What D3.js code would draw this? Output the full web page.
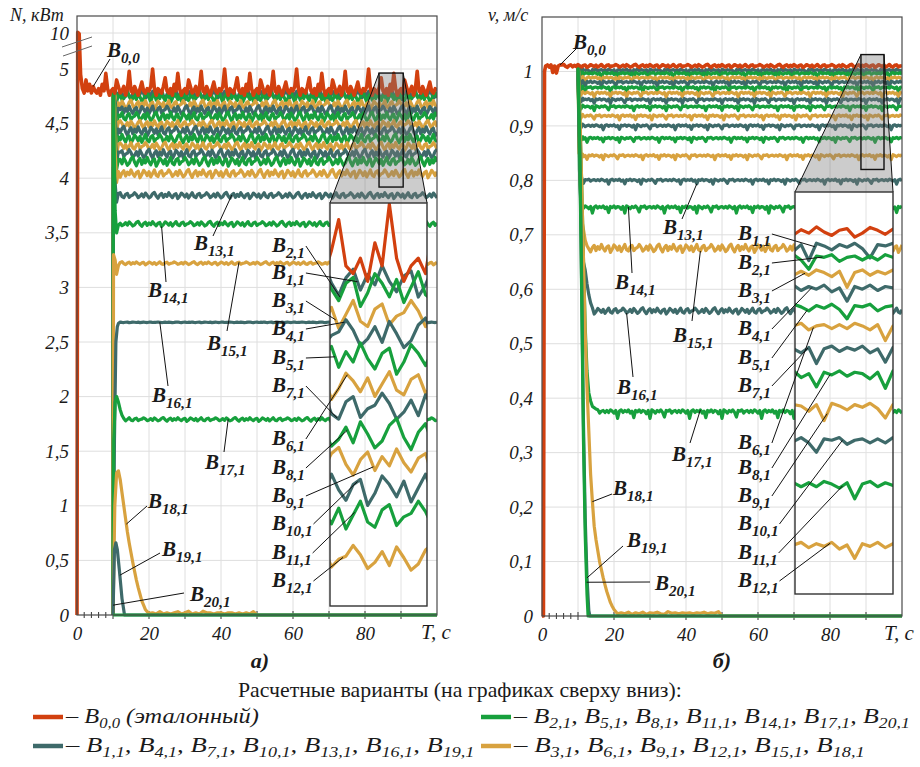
<!DOCTYPE html>
<html>
<head>
<meta charset="utf-8">
<script src="https://cdn.jsdelivr.net/npm/d3@7"></script>
<style>
  body { margin: 0; background: #fff; }
</style>
</head>
<body>
<svg id="fig" width="920" height="767"></svg>
<script>
// ---------- data ----------
const timeStep = 0.5;
const tEnd = 100;
const seriesNames = ['0,0', '1,1', '2,1', '3,1', '4,1', '5,1', '6,1', '7,1', '8,1', '9,1', '10,1',
  '11,1', '12,1', '13,1', '14,1', '15,1', '16,1', '17,1', '18,1', '19,1', '20,1'];

// typed ripple patterns (deviation units), sampled every 0.5 s
const rippleA = [0.2, 0.9, 0.3, -0.6, -0.2, 0.5, -0.4, 0.8, 0.1, -0.7, -0.3, 0.6, 1.0, -0.1, -0.8, 0.2, 0.7, -0.5, 0.4, -0.2,
  0.9, 0.0, -0.6, 0.3, 0.6, -0.9, -0.2, 0.8, 0.3, -0.4, 0.5, -0.7, 0.1, 0.9, -0.3, -0.6, 0.4, 0.7, -0.5, 0.0];
const rippleB = [0.2, -0.1, 0.3, 0.1, -0.2, 0.2, -1.0, 0.1, 0.3, -0.1, 0.2, 0.0, 0.3, -0.2, 0.1, -0.9, 0.2, 0.0, 0.3, -0.1,
  0.2, 0.1, -0.3, 0.2, -1.0, 0.3, 0.1, -0.2, 0.2, 0.0, 0.3, -0.1, -0.8, 0.2, 0.1, 0.3, -0.2, 0.1, 0.2, -0.1];
const rippleRed = [0.0, 0.2, 1.0, 0.1, -0.2, 0.1, 0.0, -0.1, 0.2, 0.6, 0.0, -0.1, 0.1, -0.2, 0.3, 0.0, 0.8, 0.1, -0.2, 0.0,
  0.1, -0.1, 0.5, 0.2, -0.1, 0.0, 0.2, -0.2, 0.1, 0.9, 0.0, -0.1, 0.2, 0.0, -0.2, 0.1, 0.4, 0.0, -0.1, 0.1];
const ripplePhase = [0, 5, 13, 22, 31, 8, 17, 26, 35, 3, 12, 21, 30, 9, 18, 27, 36, 4, 0, 0, 0];

// (a) power N, kW
const levelN = [4.80, 4.76, 4.74, 4.67, 4.62, 4.56, 4.49, 4.43, 4.36, 4.29, 4.22, 4.15, 4.04, 3.84, 3.58, 3.22, 2.68, 1.79, 0, 0, 0];
const ampN = [0.2, 0.045, 0.05, 0.045, 0.045, 0.045, 0.04, 0.045, 0.045, 0.04, 0.045, 0.045, 0.04, 0.03, 0.025, 0.015, 0.003, 0.018, 0, 0, 0];
const rippleKeyN = ['red', 'a', 'a', 'a', 'a', 'a', 'a', 'a', 'a', 'a', 'a', 'a', 'a', 'a', 'a', 'a', 'a', 'a', 'a', 'a', 'a'];
const transientN = [
  [[0, 0], [0.2, 10.1], [0.6, 9.9], [1, 4.95], [1.5, 4.82], [2, 4.78], [2.5, 4.9], [3, 4.8], [3.5, 4.86], [4, 4.78], [4.5, 4.84]],
  [[10, 0], [10.1, 4.8], [10.6, 4.82], [11, 4.72], [11.5, 4.78]],
  [[10, 0], [10.1, 4.8], [10.6, 4.8], [11, 4.7], [11.5, 4.76]],
  [[10, 0], [10.1, 4.8], [10.6, 4.75], [11, 4.62], [11.5, 4.69]],
  [[10, 0], [10.1, 4.8], [10.6, 4.7], [11, 4.57], [11.5, 4.64]],
  [[10, 0], [10.1, 4.8], [10.6, 4.66], [11, 4.5], [11.5, 4.58]],
  [[10, 0], [10.1, 4.8], [10.6, 4.6], [11, 4.44], [11.5, 4.51]],
  [[10, 0], [10.1, 4.8], [10.6, 4.55], [11, 4.37], [11.5, 4.45]],
  [[10, 0], [10.1, 4.8], [10.6, 4.5], [11, 4.3], [11.5, 4.38]],
  [[10, 0], [10.1, 4.8], [10.6, 4.45], [11, 4.22], [11.5, 4.31]],
  [[10, 0], [10.1, 4.8], [10.6, 4.4], [11, 4.15], [11.5, 4.24]],
  [[10, 0], [10.1, 4.8], [10.6, 4.35], [11, 4.08], [11.5, 4.17]],
  [[10, 0], [10.1, 4.8], [10.6, 4.25], [11, 3.96], [11.5, 4.06]],
  [[10, 0], [10.1, 4.1], [10.6, 3.95], [11, 3.78], [11.5, 3.86]],
  [[10, 0], [10.1, 4.8], [10.6, 3.7], [11, 3.5], [11.5, 3.57]],
  [[10, 0], [10.15, 3.3], [10.6, 3.25], [11, 3.12], [11.5, 3.2]],
  [[10, 0], [10.4, 1.6], [10.8, 2.5], [11.2, 2.64], [11.5, 2.67]],
  [[10, 0], [10.2, 1.6], [10.6, 1.95], [11, 2.0], [11.5, 1.95], [12, 1.88], [12.5, 1.83], [13, 1.8]],
  [[10, 0], [10.5, 1.0], [11, 1.3], [11.5, 1.32], [12, 1.24], [12.5, 1.12], [13, 1.0], [13.5, 0.88], [14, 0.76], [14.5, 0.66],
   [15, 0.57], [15.5, 0.48], [16, 0.4], [16.5, 0.32], [17, 0.25], [17.5, 0.19], [18, 0.13], [18.5, 0.09], [19, 0.05], [19.5, 0.03],
   [20, 0.015], [21, 0.02], [22, 0.01], [23, 0.03], [24, 0.01], [25, 0.02], [26, 0.01], [27, 0.02], [28, 0.03], [29, 0.01],
   [30, 0.02], [31, 0.035], [32, 0.01], [33, 0.02], [34, 0.01], [35, 0.035], [36, 0.02], [37, 0.02], [38, 0.01], [39, 0.02],
   [40, 0.02], [41, 0.01], [42, 0.02], [43, 0.02], [44, 0.01], [45, 0.02], [46, 0.01], [47, 0.02], [48, 0.01], [49, 0.03], [50, 0]],
  [[10, 0], [10.4, 0.6], [10.8, 0.66], [11.2, 0.6], [11.8, 0.4], [12.5, 0.15], [13.2, 0]],
  [[10, 0], [10.5, 0]]
];
const yTicksN = [0, 0.5, 1, 1.5, 2, 2.5, 3, 3.5, 4, 4.5, 5, 10];

// (b) speed v, m/s
const levelV = [1.01, 1.002, 0.996, 0.988, 0.98, 0.97, 0.96, 0.948, 0.935, 0.918, 0.9, 0.877, 0.845, 0.80, 0.75, 0.675, 0.56, 0.375, 0, 0, 0];
const ampV = [0.003, 0.007, 0.007, 0.007, 0.007, 0.007, 0.007, 0.007, 0.007, 0.007, 0.007, 0.007, 0.007, 0.007, 0.01, 0.008, 0.006, 0.012, 0, 0, 0];
const rippleKeyV = ['a', 'b', 'b', 'b', 'b', 'b', 'b', 'b', 'b', 'b', 'b', 'b', 'b', 'b', 'b', 'a', 'a', 'b', 'a', 'a', 'a'];
const transientV = [
  [[0, 0], [0.4, 0], [0.7, 1.0], [1, 1.01], [1.5, 1.012], [2, 1.008], [2.5, 1.012], [3, 0.998], [3.5, 1.01], [4, 0.997], [4.5, 1.01], [5, 1.012]],
  [[10, 1.01], [10.3, 1.007], [10.8, 0.998], [11.3, 1.005]],
  [[10, 1.01], [10.3, 1.001], [10.8, 0.992], [11.3, 0.999]],
  [[10, 1.01], [10.3, 0.993], [10.8, 0.984], [11.3, 0.991]],
  [[10, 1.01], [10.3, 0.985], [10.8, 0.976], [11.3, 0.983]],
  [[10, 1.01], [10.3, 0.975], [10.8, 0.966], [11.3, 0.973]],
  [[10, 1.01], [10.3, 0.965], [10.8, 0.956], [11.3, 0.963]],
  [[10, 1.01], [10.3, 0.953], [10.8, 0.944], [11.3, 0.951]],
  [[10, 1.01], [10.3, 0.94], [10.8, 0.931], [11.3, 0.938]],
  [[10, 1.01], [10.3, 0.923], [10.8, 0.914], [11.3, 0.921]],
  [[10, 1.01], [10.3, 0.905], [10.8, 0.896], [11.3, 0.903]],
  [[10, 1.01], [10.3, 0.882], [10.8, 0.873], [11.3, 0.88]],
  [[10, 1.01], [10.3, 0.85], [10.8, 0.841], [11.3, 0.848]],
  [[10, 1.01], [10.4, 0.86], [10.8, 0.81], [11.3, 0.798]],
  [[10, 1.01], [10.4, 0.82], [10.8, 0.76], [11.3, 0.75]],
  [[10, 1.01], [10.5, 0.82], [11, 0.73], [11.5, 0.71], [12, 0.69], [12.5, 0.68]],
  [[10, 1.01], [10.5, 0.82], [11, 0.7], [11.5, 0.65], [12, 0.635], [12.5, 0.61], [13, 0.59], [13.5, 0.575], [14, 0.566]],
  [[10, 1.01], [10.5, 0.92], [11, 0.8], [11.5, 0.66], [12, 0.53], [12.5, 0.45], [13, 0.41], [13.5, 0.395], [14, 0.385], [15, 0.38]],
  [[10, 1.01], [10.5, 0.93], [11, 0.8], [11.5, 0.66], [12, 0.52], [12.5, 0.42], [13, 0.34], [13.5, 0.26], [14, 0.21], [14.5, 0.165],
   [15, 0.14], [15.5, 0.12], [16, 0.1], [16.5, 0.085], [17, 0.07], [17.5, 0.057], [18, 0.045], [18.5, 0.035], [19, 0.025], [19.5, 0.018],
   [20, 0.012], [20.5, 0.008], [21, 0.004], [22, 0.006], [23, 0.004], [24, 0.007], [25, 0.003], [26, 0.006], [27, 0.004], [28, 0.007],
   [29, 0.003], [30, 0.006], [31, 0.005], [32, 0.007], [33, 0.004], [34, 0.003], [35, 0.008], [36, 0.005], [37, 0.006], [38, 0.004],
   [39, 0.006], [40, 0.005], [41, 0.006], [42, 0.004], [43, 0.006], [44, 0.005], [45, 0.007], [46, 0.004], [47, 0.006], [48, 0.005],
   [49, 0.008], [50, 0]],
  [[10, 1.01], [10.5, 0.86], [11, 0.62], [11.5, 0.36], [12, 0.18], [12.5, 0.07], [13, 0.01], [13.3, 0]],
  [[10, 1.01], [10.5, 0.85], [11, 0.6], [11.5, 0.33], [12, 0.15], [12.5, 0.04], [12.8, 0]]
];
const yTicksV = [0, 0.1, 0.2, 0.3, 0.4, 0.5, 0.6, 0.7, 0.8, 0.9, 1];
const xTickLabels = [0, 20, 40, 60, 80];

// ---------- styling / layout ----------
const SERIF = 'Liberation Serif';
const palette = { red: '#d2400f', teal: '#3e6a6a', green: '#17a03d', gold: '#d8a23f' };
const colorOf = i => i === 0 ? palette.red : [palette.teal, palette.green, palette.gold][(i - 1) % 3];
const patterns = { a: rippleA, b: rippleB, red: rippleRed };

function buildPoints(i, trans, levels, amps, keys) {
  const pts = trans[i].map(p => ({ t: p[0], v: p[1] }));
  const pat = patterns[keys[i]];
  const last = pts[pts.length - 1].t;
  for (let g = Math.floor(last / timeStep + 1e-9) + 1; g * timeStep <= tEnd + 1e-9; g++) {
    pts.push({ t: g * timeStep, v: levels[i] + amps[i] * pat[(g + ripplePhase[i]) % pat.length] });
  }
  return pts;
}

function valueAt(pts, t) {
  const i = d3.bisector(d => d.t).left(pts, t);
  if (i <= 0) return pts[0].v;
  if (i >= pts.length) return pts[pts.length - 1].v;
  const a = pts[i - 1], b = pts[i];
  return a.v + (b.v - a.v) * (t - a.t) / (b.t - a.t);
}

const svg = d3.select('#fig');
const fmt = d => String(d).replace('.', ',');
const addText = (parent) => parent.append('text').style('font-family', SERIF).style('fill', '#1a1a1a');

// label "B" with subscript
function bLabel(g, x, y, name, size, bold) {
  const t = addText(g).attr('x', x).attr('y', y)
    .style('font-style', 'italic').style('font-weight', bold ? 'bold' : 'normal').style('font-size', size + 'px');
  t.append('tspan').text('B');
  t.append('tspan').attr('dy', size * 0.27).style('font-size', (size * 0.72) + 'px').text(name);
  return t;
}

function drawPanel(cfg) {
  const x = cfg.x, y = cfg.y;
  const [x0, x1] = x.range();
  const g = svg.append('g');
  const series = cfg.levels.map((_, i) => buildPoints(i, cfg.trans, cfg.levels, cfg.amps, cfg.keys));

  const clipId = 'clip' + cfg.id;
  svg.append('clipPath').attr('id', clipId).append('rect')
    .attr('x', x0 - 3).attr('y', cfg.top).attr('width', x1 - x0 + 3).attr('height', cfg.bottom - cfg.top + 3);

  // grid
  const grid = g.append('g').attr('stroke', '#dedede').attr('stroke-width', 1);
  grid.selectAll('.gx').data(d3.range(10, 100, 10)).join('line')
    .attr('x1', d => x(d)).attr('x2', d => x(d)).attr('y1', cfg.top).attr('y2', cfg.bottom);
  grid.selectAll('.gy').data(cfg.yTicks.filter(d => d > 0)).join('line')
    .attr('x1', x0).attr('x2', x1).attr('y1', d => y(d)).attr('y2', d => y(d));

  // x-axis small ticks
  const ticks = g.append('g').attr('stroke', '#333').attr('stroke-width', 1);
  ticks.selectAll('.mt').data(d3.range(2, 10, 2)).join('line')
    .attr('x1', d => x(d)).attr('x2', d => x(d)).attr('y1', cfg.bottom - 3).attr('y2', cfg.bottom + 3);
  ticks.selectAll('.Mt').data(d3.range(10, 100, 10)).join('line')
    .attr('x1', d => x(d)).attr('x2', d => x(d)).attr('y1', cfg.bottom - 4).attr('y2', cfg.bottom + 4);

  const line = d3.line().x(d => x(d.t)).y(d => y(d.v));
  const order = d3.range(1, series.length).concat([0]);
  g.append('g').attr('clip-path', `url(#${clipId})`)
    .selectAll('path').data(order).join('path')
    .attr('d', i => line(series[i]))
    .attr('fill', 'none').attr('stroke', i => colorOf(i))
    .attr('stroke-width', i => i === 0 ? 3.6 : 3.2).attr('stroke-linejoin', 'round');

  // frame
  g.append('rect').attr('x', x0).attr('y', cfg.top).attr('width', x1 - x0).attr('height', cfg.bottom - cfg.top)
    .attr('fill', 'none').attr('stroke', '#4a4a4a').attr('stroke-width', 1.2);

  // zoom window + trapezoid + inset
  const ins = cfg.inset;
  const wx0 = x(ins.t[0]), wx1 = x(ins.t[1]), wy0 = y(ins.v[0]), wy1 = y(ins.v[1]);
  g.append('polygon')
    .attr('points', [[wx0, wy0], [wx1, wy0], [ins.box[1], ins.box[2]], [ins.box[0], ins.box[2]]].join(' '))
    .attr('fill', '#7a7a7a').attr('fill-opacity', 0.38);
  g.append('line').attr('x1', wx0).attr('y1', wy0).attr('x2', ins.box[0]).attr('y2', ins.box[2]).attr('stroke', '#111');
  g.append('line').attr('x1', wx1).attr('y1', wy0).attr('x2', ins.box[1]).attr('y2', ins.box[2]).attr('stroke', '#111');
  g.append('rect').attr('x', wx0).attr('y', wy0).attr('width', wx1 - wx0).attr('height', wy1 - wy0)
    .attr('fill', 'none').attr('stroke', '#111').attr('stroke-width', 1.4);

  const ix = d3.scaleLinear(ins.t, [ins.box[0], ins.box[1]]);
  const iy = d3.scaleLinear(ins.v, [ins.box[2], ins.box[3]]);
  const iclip = 'iclip' + cfg.id;
  svg.append('clipPath').attr('id', iclip).append('rect')
    .attr('x', ins.box[0]).attr('y', ins.box[2]).attr('width', ins.box[1] - ins.box[0]).attr('height', ins.box[3] - ins.box[2]);
  const ig = g.append('g');
  ig.append('rect').attr('x', ins.box[0]).attr('y', ins.box[2]).attr('width', ins.box[1] - ins.box[0])
    .attr('height', ins.box[3] - ins.box[2]).attr('fill', '#fff');
  const igr = ig.append('g').attr('clip-path', `url(#${iclip})`);
  igr.append('g').attr('stroke', '#e2e2e2')
    .selectAll('line').data(cfg.yTicks.filter(d => y(d) > ins.box[2] && y(d) < ins.box[3])).join('line')
    .attr('x1', ins.box[0]).attr('x2', ins.box[1]).attr('y1', d => y(d)).attr('y2', d => y(d));
  igr.append('g').attr('stroke', '#e2e2e2')
    .selectAll('line').data(d3.range(10, 100, 10).filter(d => x(d) > ins.box[0] && x(d) < ins.box[1])).join('line')
    .attr('x1', d => x(d)).attr('x2', d => x(d)).attr('y1', ins.box[2]).attr('y2', ins.box[3]);
  const iline = d3.line().x(d => ix(d.t)).y(d => iy(d.v));
  const iorder = d3.range(1, 13).concat([0]);
  igr.selectAll('path').data(iorder).join('path')
    .attr('d', i => iline(series[i].filter(p => p.t >= ins.t[0] - 1 && p.t <= ins.t[1] + 1)))
    .attr('fill', 'none').attr('stroke', i => colorOf(i)).attr('stroke-width', 3.2).attr('stroke-linejoin', 'round');
  ig.append('rect').attr('x', ins.box[0]).attr('y', ins.box[2]).attr('width', ins.box[1] - ins.box[0])
    .attr('height', ins.box[3] - ins.box[2]).attr('fill', 'none').attr('stroke', '#333').attr('stroke-width', 1.4);

  // axes text
  const yAxis = d3.axisLeft(y).tickValues(cfg.yTicks).tickFormat(fmt).tickSize(0).tickPadding(cfg.yPad);
  const ya = g.append('g').attr('transform', `translate(${x0},0)`).call(yAxis);
  const xAxis = d3.axisBottom(x).tickValues(xTickLabels).tickSize(0).tickPadding(12);
  const xa = g.append('g').attr('transform', `translate(0,${cfg.bottom})`).call(xAxis);
  [ya, xa].forEach(a => {
    a.select('.domain').remove();
    a.selectAll('text').style('font-family', SERIF).style('font-style', 'italic')
      .style('font-size', '19px').style('fill', '#1a1a1a');
  });
  addText(g).attr('x', cfg.tLabelX).attr('y', cfg.bottom + 24).style('font-style', 'italic').style('font-size', '21px').text('T, c');
  addText(g).attr('x', cfg.yTitle[0]).attr('y', cfg.yTitle[1]).style('font-style', 'italic').style('font-size', '18px').text(cfg.yTitleText);
  addText(g).attr('x', cfg.panelLabel[0]).attr('y', cfg.panelLabel[1]).attr('text-anchor', 'middle')
    .style('font-style', 'italic').style('font-weight', 'bold').style('font-size', '22px').text(cfg.panelText);

  if (cfg.breakMarks) {
    cfg.breakMarks.forEach(m => g.append('line').attr('x1', m[0]).attr('y1', m[1]).attr('x2', m[2]).attr('y2', m[3])
      .attr('stroke', '#666').attr('stroke-width', 1));
  }

  // main labels with leaders
  const lg = g.append('g');
  cfg.labels.forEach(l => {
    const vEnd = l.v !== undefined ? l.v : valueAt(series[l.s], l.at);
    lg.append('line').attr('x1', l.from[0]).attr('y1', l.from[1]).attr('x2', x(l.at)).attr('y2', y(vEnd))
      .attr('stroke', '#111').attr('stroke-width', 1);
    bLabel(lg, l.x, l.y, seriesNames[l.s], 21, true);
  });
  // inset labels with leaders
  cfg.insetLabels.forEach(l => {
    const t = bLabel(lg, ins.labelX, l.y, seriesNames[l.s], 21, true);
    const b = t.node().getBBox();
    lg.append('line').attr('x1', b.x + b.width + 1).attr('y1', l.y - 6).attr('x2', ix(l.at)).attr('y2', iy(valueAt(series[l.s], l.at)))
      .attr('stroke', '#111').attr('stroke-width', 1);
  });
}

drawPanel({
  id: 'N',
  x: d3.scaleLinear([0, 100], [77, 437]),
  y: d3.scaleLinear().domain([0, 5, 10, 12.35]).range([615, 69, 33, 16]),
  top: 16, bottom: 615,
  levels: levelN, amps: ampN, keys: rippleKeyN, trans: transientN, yTicks: yTicksN, yPad: 8,
  inset: { t: [83.9, 90.6], v: [4.963, 3.919], box: [330, 427, 203, 606], labelX: 272 },
  tLabelX: 421, yTitle: [10, 21], yTitleText: 'N, кВт', panelLabel: [260, 668], panelText: 'а)',
  breakMarks: [[62, 47, 92, 37], [63, 56, 92, 46]],
  labels: [
    { s: 0, x: 107, y: 57, from: [110, 59], at: 4.5 },
    { s: 13, x: 194, y: 250, from: [213, 236], at: 43 },
    { s: 14, x: 148, y: 297, from: [166, 282], at: 23.5 },
    { s: 15, x: 207, y: 350, from: [227, 331], at: 45 },
    { s: 16, x: 152, y: 402, from: [168, 386], at: 23 },
    { s: 17, x: 205, y: 469, from: [224, 452], at: 42 },
    { s: 18, x: 148, y: 508, from: [147, 506], at: 13.7 },
    { s: 19, x: 162, y: 556, from: [160, 553], at: 11.9 },
    { s: 20, x: 190, y: 601, from: [184, 593], at: 10, v: 0.09 }
  ],
  insetLabels: [
    { s: 2, y: 252, at: 84.6 }, { s: 1, y: 279, at: 85.8 }, { s: 3, y: 307, at: 84.3 }, { s: 4, y: 335, at: 84.9 },
    { s: 5, y: 364, at: 84.25 }, { s: 7, y: 392, at: 84.4 }, { s: 6, y: 445, at: 85.1 }, { s: 8, y: 474, at: 85.1 },
    { s: 9, y: 502, at: 86.9 }, { s: 10, y: 530, at: 85.8 }, { s: 11, y: 559, at: 85.6 }, { s: 12, y: 587, at: 84.8 }
  ]
});

drawPanel({
  id: 'V',
  x: d3.scaleLinear([0, 100], [542, 902]),
  y: d3.scaleLinear([0, 1.1], [616, 17]),
  top: 17, bottom: 616,
  levels: levelV, amps: ampV, keys: rippleKeyV, trans: transientV, yTicks: yTicksV, yPad: 9,
  inset: { t: [88.6, 95], v: [1.031, 0.82], box: [795, 893, 192, 594], labelX: 738 },
  tLabelX: 884, yTitle: [488, 21], yTitleText: 'v, м/с', panelLabel: [722, 668], panelText: 'б)',
  labels: [
    { s: 0, x: 573, y: 49, from: [577, 48], at: 5 },
    { s: 13, x: 663, y: 234, from: [682, 219], at: 43 },
    { s: 14, x: 615, y: 289, from: [632, 273], at: 24 },
    { s: 15, x: 673, y: 342, from: [692, 321], at: 44 },
    { s: 16, x: 617, y: 394, from: [633, 377], at: 23.5 },
    { s: 17, x: 672, y: 461, from: [690, 443], at: 44 },
    { s: 18, x: 613, y: 495, from: [612, 494], at: 14 },
    { s: 19, x: 627, y: 547, from: [623, 546], at: 12.5 },
    { s: 20, x: 655, y: 590, from: [650, 582], at: 12.4 }
  ],
  insetLabels: [
    { s: 1, y: 240, at: 89.9 }, { s: 2, y: 269, at: 90.4 }, { s: 3, y: 297, at: 89.25 }, { s: 4, y: 335, at: 89.7 },
    { s: 5, y: 364, at: 89.4 }, { s: 7, y: 392, at: 89.45 }, { s: 6, y: 449, at: 89.8 }, { s: 8, y: 474, at: 90.9 },
    { s: 9, y: 502, at: 90.7 }, { s: 10, y: 530, at: 91.7 }, { s: 11, y: 559, at: 91.7 }, { s: 12, y: 587, at: 90.9 }
  ]
});

// ---------- caption and legend ----------
function fitText(node, x, y, width) {
  const w = node.getBBox().width;
  d3.select(node).attr('x', 0).attr('y', 0).attr('transform', `translate(${x},${y}) scale(${width / w},1)`);
}
const title = addText(svg).style('font-size', '22px').text('Расчетные варианты (на графиках сверху вниз):');
fitText(title.node(), 238, 697, 444);

const legendRows = [
  { key: 'red', names: ['0,0'], suffix: ' (эталонный)', sx: 33, y: 723, tx: 66, tw: 194 },
  { key: 'green', names: ['2,1', '5,1', '8,1', '11,1', '14,1', '17,1', '20,1'], suffix: '', sx: 481, y: 723, tx: 514, tw: 397 },
  { key: 'teal', names: ['1,1', '4,1', '7,1', '10,1', '13,1', '16,1', '19,1'], suffix: '', sx: 33, y: 752, tx: 66, tw: 410 },
  { key: 'gold', names: ['3,1', '6,1', '9,1', '12,1', '15,1', '18,1'], suffix: '', sx: 481, y: 752, tx: 514, tw: 352 }
];
legendRows.forEach(r => {
  svg.append('line').attr('x1', r.sx).attr('x2', r.sx + 30).attr('y1', r.y - 6).attr('y2', r.y - 6)
    .attr('stroke', palette[r.key]).attr('stroke-width', 4.5);
  const t = addText(svg).style('font-size', '22px').style('font-style', 'italic');
  r.names.forEach((n, i) => {
    t.append('tspan').attr('dy', i === 0 ? 0 : -5).text(i === 0 ? '– B' : ', B');
    t.append('tspan').attr('dy', 5).style('font-size', '15px').text(n);
  });
  if (r.suffix) t.append('tspan').attr('dy', -5).text(r.suffix);
  fitText(t.node(), r.tx, r.y, r.tw);
});
</script>
</body>
</html>
